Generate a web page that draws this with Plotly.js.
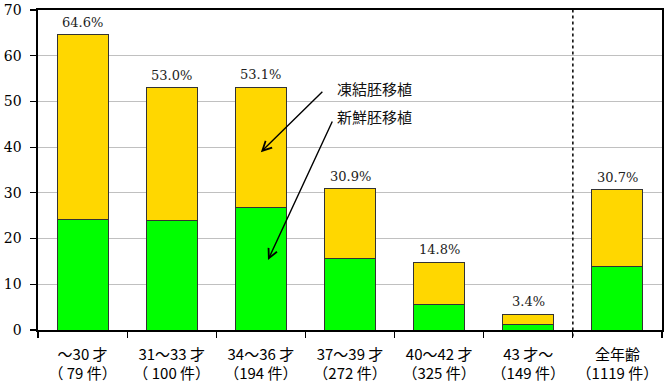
<!DOCTYPE html>
<html><head><meta charset="utf-8">
<script src="https://cdn.plot.ly/plotly-3.0.1.min.js"></script>
<style>html,body{margin:0;padding:0;background:#fff}</style>
</head><body><div id="chart" style="width:668px;height:388px"></div>
<script>
const ageGroups = ['～30 才','31～33 才','34～36 才','37～39 才','40～42 才','43 才～','全年齢'];
const caseCounts = ['（ 79 件）','（ 100 件）','（194 件）','（272 件）','（325 件）','（149 件）','（1119 件）'];
const freshRates = [24.2, 24.0, 26.8, 15.7, 5.5, 1.2, 14.0];
const frozenRates = [40.4, 29.0, 26.3, 15.2, 9.3, 2.2, 16.7];
const totalRates = [64.6, 53.0, 53.1, 30.9, 14.8, 3.4, 30.7];
const freshName = '新鮮胚移植';
const frozenName = '凍結胚移植';

const xLabels = ageGroups.map((a, i) => a + '<br>' + caseCounts[i]);

const traces = [
  {type:'bar', name: freshName, x: xLabels, y: freshRates,
   marker:{color:'#00FF00', line:{color:'#333333', width:1}}, hoverinfo:'skip'},
  {type:'bar', name: frozenName, x: xLabels, y: frozenRates,
   marker:{color:'#FFD700', line:{color:'#333333', width:1}}, hoverinfo:'skip'}
];

const annotations = totalRates.map((t, i) => ({
  x: i, y: t, xref:'x', yref:'y', text: t.toFixed(1) + '%', showarrow:false,
  yanchor:'bottom', yshift:3, font:{family:'DejaVu Serif', size:13, color:'#222'}
}));
annotations.push(
  {x:2.0, y:38.9, xref:'x', yref:'y', text:'', showarrow:true, ax:63, ay:-62,
   arrowhead:5, arrowsize:1.3, arrowwidth:1.4, arrowcolor:'#000'},
  {x:2.08, y:15.3, xref:'x', yref:'y', text:'', showarrow:true, ax:65, ay:-140,
   arrowhead:5, arrowsize:1.3, arrowwidth:1.4, arrowcolor:'#000'},
  {x:3.0, y:52.8, xref:'x', yref:'y', text: frozenName, showarrow:false, xanchor:'left', yanchor:'middle', xshift:-15,
   font:{family:'Noto Sans CJK JP', size:15, color:'#111'}},
  {x:3.0, y:46.6, xref:'x', yref:'y', text: freshName, showarrow:false, xanchor:'left', yanchor:'middle', xshift:-15,
   font:{family:'Noto Sans CJK JP', size:15, color:'#111'}}
);

const layout = {
  width:668, height:388,
  margin:{l:38, r:6, t:10, b:58},
  paper_bgcolor:'#fff', plot_bgcolor:'#fff',
  barmode:'stack', bargap:0.428, showlegend:false,
  xaxis:{type:'category', range:[-0.5, 6.5], tickson:'boundaries', tickangle:0,
    ticks:'outside', ticklen:6, tickcolor:'#000', tickwidth:1.2,
    showline:true, linecolor:'#000', linewidth:1.6, mirror:true,
    showgrid:false, ticklabelstandoff:10,
    tickfont:{family:'Noto Sans CJK JP', size:15, color:'#000'}},
  yaxis:{range:[0,70], dtick:10, tick0:0,
    ticks:'outside', ticklen:6, tickcolor:'#000', tickwidth:1.2,
    showline:true, linecolor:'#000', linewidth:1.6, mirror:true,
    showgrid:true, gridcolor:'#c0c0c0', gridwidth:1.2, zeroline:false,
    ticklabelstandoff:6,
    tickfont:{family:'DejaVu Serif', size:14, color:'#000'}},
  shapes:[{type:'line', xref:'x', yref:'paper', x0:5.5, x1:5.5, y0:-0.02, y1:1.005,
    line:{color:'#000', width:1.5, dash:'dot'}}],
  annotations: annotations
};

Plotly.newPlot('chart', traces, layout, {staticPlot:true, displayModeBar:false});
</script></body></html>
